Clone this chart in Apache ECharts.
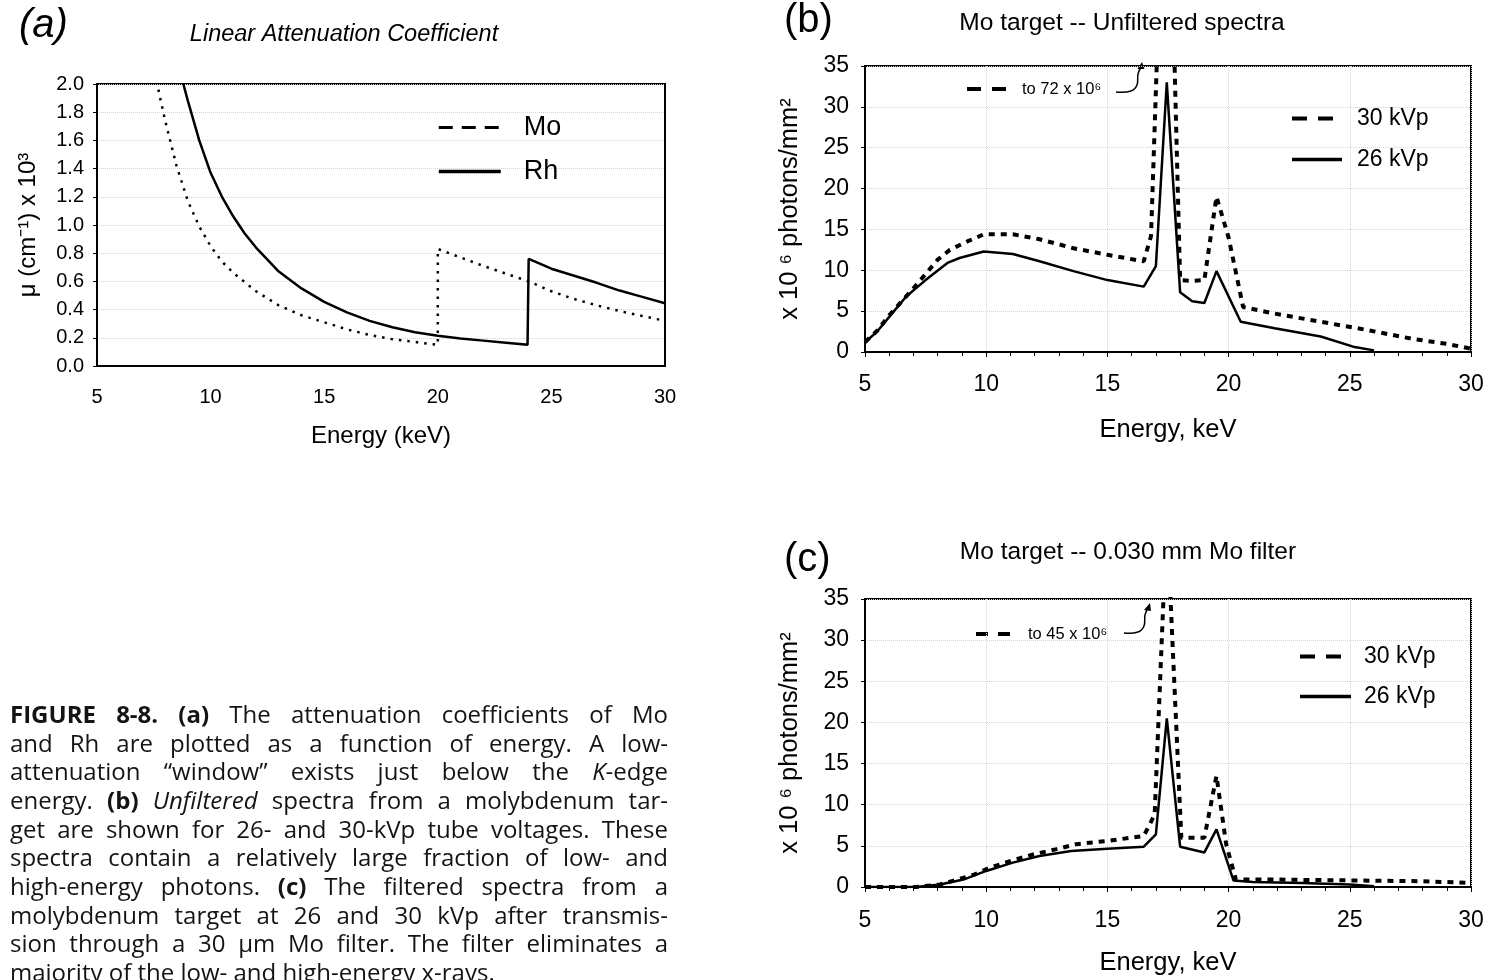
<!DOCTYPE html>
<html>
<head>
<meta charset="utf-8">
<script src="https://cdn.jsdelivr.net/npm/echarts@6/dist/echarts.min.js"></script>
<style>
  html, body { margin: 0; padding: 0; background: #fff; }
  #main { width: 1492px; height: 980px; }
</style>
</head>
<body>
<div id="main"></div>
<script>
// (a) Linear attenuation coefficient, mu (cm^-1) x 10^3, versus energy (keV)
const moEnergy = [7.7, 8.0, 8.5, 9.0, 9.5, 10, 10.5, 11, 12, 13, 14, 15, 16, 17, 18, 19, 20, 20, 21, 22, 23, 24, 25, 26, 27, 28, 29, 30];
const moMu     = [1.96, 1.74, 1.42, 1.17, 0.99, 0.85, 0.74, 0.66, 0.53, 0.43, 0.36, 0.31, 0.26, 0.22, 0.19, 0.17, 0.15, 0.83, 0.77, 0.71, 0.655, 0.6, 0.53, 0.475, 0.43, 0.39, 0.355, 0.32];
const rhEnergy = [8.8, 9.0, 9.5, 10, 10.5, 11, 11.5, 12, 13, 14, 15, 16, 17, 18, 19, 20, 21, 22, 23, 23.95, 24.0, 25, 26, 27, 28, 29, 30];
const rhMu     = [2.0, 1.88, 1.6, 1.37, 1.2, 1.06, 0.94, 0.84, 0.67, 0.55, 0.455, 0.38, 0.32, 0.275, 0.24, 0.215, 0.195, 0.18, 0.165, 0.15, 0.76, 0.69, 0.64, 0.59, 0.535, 0.49, 0.445];

// (b) Mo target, unfiltered spectra (x 10^6 photons/mm^2)
const unf30Energy = [5.0, 5.5, 6.0, 7.0, 8.0, 8.5, 9.2, 9.9, 11.1, 12.2, 13.6, 15.0, 16.5, 16.8, 17.45, 18.0, 18.5, 19.0, 19.5, 20.0, 20.6, 21.9, 23.8, 25.7, 27.6, 29.0, 30.0];
const unf30Flux   = [1.2, 2.6, 4.5, 7.8, 11.3, 12.5, 13.5, 14.4, 14.4, 13.8, 12.7, 11.9, 11.1, 14.2, 72, 8.8, 8.7, 8.8, 19.0, 14.0, 5.5, 4.7, 3.7, 2.7, 1.6, 1.0, 0.4];
const unf26Energy = [5.0, 5.5, 6.0, 6.7, 7.5, 8.4, 8.9, 9.9, 11.1, 12.2, 13.6, 15.0, 16.5, 17.0, 17.45, 18.0, 18.5, 19.0, 19.5, 20.5, 21.9, 23.8, 25.2, 26.0];
const unf26Flux   = [1.2, 2.5, 4.3, 6.8, 8.8, 10.9, 11.5, 12.3, 12.0, 11.1, 9.9, 8.8, 8.0, 10.5, 33.0, 7.3, 6.2, 6.0, 9.9, 3.7, 2.9, 1.9, 0.6, 0.2];

// (c) Mo target, 0.030 mm Mo filter (x 10^6 photons/mm^2)
const flt30Energy = [5.0, 7.1, 8.1, 9.5, 10.15, 11.1, 12.0, 12.9, 13.7, 15.0, 16.5, 16.95, 17.45, 18.05, 19.0, 19.5, 19.9, 20.3, 22, 25, 28, 29, 30];
const flt30Flux   = [0, 0, 0.3, 1.5, 2.35, 3.25, 4.0, 4.6, 5.2, 5.6, 6.2, 8.8, 45, 6.0, 6.0, 13.5, 5.2, 0.9, 0.9, 0.8, 0.7, 0.6, 0.5];
const flt26Energy = [5.0, 7.1, 8.1, 9.06, 10.0, 11.1, 12.2, 13.5, 15.0, 16.5, 17.0, 17.45, 18.0, 19.0, 19.5, 20.2, 21, 23, 25, 26];
const flt26Flux   = [0, 0, 0.3, 0.9, 1.95, 2.96, 3.77, 4.38, 4.66, 4.9, 6.4, 20.5, 4.9, 4.2, 7.0, 0.8, 0.6, 0.5, 0.3, 0.1];

// Figure caption; **bold** and _italic_ runs inside words
const captionLines = [
  '**FIGURE** **8-8.** **(a)** The attenuation coefficients of Mo',
  'and Rh are plotted as a function of energy. A low-',
  'attenuation “window” exists just below the _K_-edge',
  'energy. **(b)** _Unfiltered_ spectra from a molybdenum tar-',
  'get are shown for 26- and 30-kVp tube voltages. These',
  'spectra contain a relatively large fraction of low- and',
  'high-energy photons. **(c)** The filtered spectra from a',
  'molybdenum target at 26 and 30 kVp after transmis-',
  'sion through a 30 μm Mo filter. The filter eliminates a',
  'majority of the low- and high-energy x-rays.'
];

const SANS = '"Liberation Sans", Arial, Helvetica, sans-serif';
const CAPFONT = '"Open Sans", "Noto Sans", sans-serif';
const INK = '#000';

function pairs(xs, ys) { return xs.map((x, i) => [x, ys[i]]); }

const chart = echarts.init(document.getElementById('main'));

const gridBox = { show: true, borderColor: '#000', borderWidth: 2, backgroundColor: 'transparent' };
const faintGrid = { show: true, lineStyle: { color: '#d4d4d4', type: 'dotted', width: 1 } };

function xAxisFor(idx, name, fs, nfs, nameGap, labelMargin, minor) {
  return {
    gridIndex: idx, type: 'value', min: 5, max: 30, interval: 5,
    axisLine: { show: true, onZero: false, lineStyle: { color: '#000', width: 2 } },
    axisTick: { show: minor, length: 5, lineStyle: { color: '#000' } },
    minorTick: { show: minor, splitNumber: 5, length: 4, lineStyle: { color: '#000' } },
    splitLine: idx === 0 ? { show: false } : faintGrid,
    axisLabel: { fontSize: fs, fontFamily: SANS, color: INK, margin: labelMargin },
    name: name, nameLocation: 'middle', nameGap: nameGap,
    nameTextStyle: { fontSize: nfs, fontFamily: SANS, color: INK }
  };
}

function yAxisFor(idx, max, step, fs, margin, name, nfs, nameGap, fmt) {
  return {
    gridIndex: idx, type: 'value', min: 0, max: max, interval: step,
    axisLine: { show: true, lineStyle: { color: '#000', width: 2 } },
    axisTick: { show: true, length: 4, lineStyle: { color: '#000' } },
    splitLine: faintGrid,
    axisLabel: { fontSize: fs, fontFamily: SANS, color: INK, margin: margin, formatter: fmt },
    name: name, nameLocation: 'middle', nameRotate: 90, nameGap: nameGap,
    nameTextStyle: { fontSize: nfs, fontFamily: SANS, color: INK }
  };
}

// caption: justified words drawn as text elements
const measureCtx = document.createElement('canvas').getContext('2d');
function segFont(kind, size) {
  const w = kind === 'b' ? 'bold ' : '';
  const s = kind === 'i' ? 'italic ' : '';
  return s + w + size + 'px ' + CAPFONT;
}
function buildCaption(left, right, firstY, pitch, size) {
  const out = [];
  captionLines.forEach((line, li) => {
    const words = line.split(' ').map(word =>
      word.split(/(\*\*[^*]+\*\*|_[^_]+_)/).filter(Boolean).map(t => {
        if (t.startsWith('**')) return { text: t.slice(2, -2), kind: 'b' };
        if (t.startsWith('_')) return { text: t.slice(1, -1), kind: 'i' };
        return { text: t, kind: 'n' };
      })
    );
    let total = 0;
    words.forEach(w => {
      w.width = 0;
      w.forEach(seg => {
        measureCtx.font = segFont(seg.kind, size);
        seg.width = measureCtx.measureText(seg.text).width;
        w.width += seg.width;
      });
      total += w.width;
    });
    measureCtx.font = segFont('n', size);
    const space = measureCtx.measureText(' ').width;
    const last = li === captionLines.length - 1;
    const gap = last ? space : Math.max(3, (right - left - total) / (words.length - 1));
    let x = left;
    const y = firstY + li * pitch;
    words.forEach(w => {
      let sx = x;
      w.forEach(seg => {
        out.push({
          type: 'text', x: sx, y: y, silent: true,
          style: { text: seg.text, font: segFont(seg.kind, size), fill: '#141414',
                   align: 'left', verticalAlign: 'middle', textAlign: 'left', textVerticalAlign: 'middle' }
        });
        sx += seg.width;
      });
      x += w.width + gap;
    });
  });
  return out;
}

function txt(x, y, text, font, align) {
  return {
    type: 'text', x: x, y: y, silent: true,
    style: { text: text, font: font, fill: INK, align: align || 'left', verticalAlign: 'middle',
             textAlign: align || 'left', textVerticalAlign: 'middle' }
  };
}

const graphics = [
  // panel letters and titles
  txt(19, 26, '(a)', 'italic 40px ' + SANS),
  txt(344, 34, 'Linear Attenuation Coefficient', 'italic 23.5px ' + SANS, 'center'),
  txt(784, 21, '(b)', '40px ' + SANS),
  txt(1122, 23, 'Mo target -- Unfiltered spectra', '24.5px ' + SANS, 'center'),
  txt(784, 560, '(c)', '40px ' + SANS),
  txt(1128, 552, 'Mo target -- 0.030 mm Mo filter', '24.5px ' + SANS, 'center'),

  // (b) off-scale note for the 30 kVp K-alpha peak
  { type: 'line', silent: true, shape: { x1: 967, y1: 89, x2: 1007, y2: 89 },
    style: { stroke: '#000', lineWidth: 4, lineDash: [14, 11] } },
  txt(1022, 89, 'to 72 x 10⁶', '16.5px ' + SANS),
  { type: 'polyline', silent: true, shape: { points: [[1116, 92], [1131, 91], [1137, 85], [1138, 74], [1141, 67]], smooth: 0.4 },
    style: { stroke: '#000', lineWidth: 1.5, fill: null } },
  { type: 'polygon', silent: true, shape: { points: [[1142, 62], [1137.5, 69], [1144.5, 69]] }, style: { fill: '#000' } },

  // (c) off-scale note
  { type: 'line', silent: true, shape: { x1: 976, y1: 634, x2: 1012, y2: 634 },
    style: { stroke: '#000', lineWidth: 4, lineDash: [12, 10] } },
  txt(1028, 634, 'to 45 x 10⁶', '16.5px ' + SANS),
  { type: 'polyline', silent: true, shape: { points: [[1124, 633], [1138, 632], [1144, 626], [1145, 615], [1148, 608]], smooth: 0.4 },
    style: { stroke: '#000', lineWidth: 1.5, fill: null } },
  { type: 'polygon', silent: true, shape: { points: [[1150, 603], [1144, 610], [1151, 611]] }, style: { fill: '#000' } }
].concat(buildCaption(10, 668, 716, 28.7, 24));

const solid = { color: '#000', width: 2.5, type: 'solid' };
const hiddenMarker = { opacity: 0 };

chart.setOption({
  animation: false,
  backgroundColor: '#fff',
  grid: [
    Object.assign({ left: 97, top: 84, width: 568, height: 282 }, gridBox),
    Object.assign({ left: 865, top: 66, width: 606, height: 286 }, gridBox),
    Object.assign({ left: 865, top: 599, width: 606, height: 288 }, gridBox)
  ],
  xAxis: [
    xAxisFor(0, 'Energy (keV)', 20, 24, 58, 21, false),
    xAxisFor(1, 'Energy, keV', 23, 25.5, 65, 21, true),
    xAxisFor(2, 'Energy, keV', 23, 25.5, 63, 22, true)
  ],
  yAxis: [
    yAxisFor(0, 2, 0.2, 20, 13, 'μ (cm⁻¹) x 10³', 24, 57, v => v.toFixed(1)),
    yAxisFor(1, 35, 5, 23, 16, 'x 10 ⁶ photons/mm²', 25.5, 62),
    yAxisFor(2, 35, 5, 23, 16, 'x 10 ⁶ photons/mm²', 25.5, 62)
  ],
  legend: [
    {
      left: 437, top: 114, orient: 'vertical', padding: 0, itemWidth: 62, itemHeight: 14, itemGap: 17,
      selectedMode: false, itemStyle: hiddenMarker,
      data: [{ name: 'Mo', lineStyle: { type: [14, 9], width: 3 } }, { name: 'Rh', lineStyle: { width: 3.5 } }],
      textStyle: { fontSize: 27, fontFamily: SANS, color: INK, padding: [0, 0, 0, 18] }
    },
    {
      left: 1290, top: 107, orient: 'vertical', padding: 0, itemWidth: 50, itemHeight: 14, itemGap: 18,
      selectedMode: false, itemStyle: hiddenMarker,
      data: [{ name: '30 kVp', lineStyle: { type: [15, 11], width: 4 } }, { name: '26 kVp', lineStyle: { width: 3.5 } }],
      textStyle: { fontSize: 23, fontFamily: SANS, color: INK, padding: [0, 0, 0, 10] }
    },
    {
      left: 1298, top: 645, orient: 'vertical', padding: 0, itemWidth: 51, itemHeight: 14, itemGap: 17,
      selectedMode: false, itemStyle: hiddenMarker,
      data: [{ name: '30 kVp', lineStyle: { type: [15, 11], width: 4 } }, { name: '26 kVp', lineStyle: { width: 3.5 } }],
      textStyle: { fontSize: 23, fontFamily: SANS, color: INK, padding: [0, 0, 0, 8] }
    }
  ],
  series: [
    { name: 'Mo', type: 'line', xAxisIndex: 0, yAxisIndex: 0, data: pairs(moEnergy, moMu), symbol: 'none',
      itemStyle: { color: '#000' }, lineStyle: { color: '#000', width: 2.5, type: [2.5, 6] }, clip: true },
    { name: 'Rh', type: 'line', xAxisIndex: 0, yAxisIndex: 0, data: pairs(rhEnergy, rhMu), symbol: 'none',
      itemStyle: { color: '#000' }, lineStyle: solid, clip: true },
    { name: '30 kVp', type: 'line', xAxisIndex: 1, yAxisIndex: 1, data: pairs(unf30Energy, unf30Flux), symbol: 'none',
      itemStyle: { color: '#000' }, lineStyle: { color: '#000', width: 4, type: [6, 6] }, clip: true },
    { name: '26 kVp', type: 'line', xAxisIndex: 1, yAxisIndex: 1, data: pairs(unf26Energy, unf26Flux), symbol: 'none',
      itemStyle: { color: '#000' }, lineStyle: solid, clip: true },
    { name: '30 kVp', type: 'line', xAxisIndex: 2, yAxisIndex: 2, data: pairs(flt30Energy, flt30Flux), symbol: 'none',
      itemStyle: { color: '#000' }, lineStyle: { color: '#000', width: 4, type: [6, 6] }, clip: true },
    { name: '26 kVp', type: 'line', xAxisIndex: 2, yAxisIndex: 2, data: pairs(flt26Energy, flt26Flux), symbol: 'none',
      itemStyle: { color: '#000' }, lineStyle: solid, clip: true }
  ],
  graphic: { elements: graphics }
});
</script>
</body>
</html>
